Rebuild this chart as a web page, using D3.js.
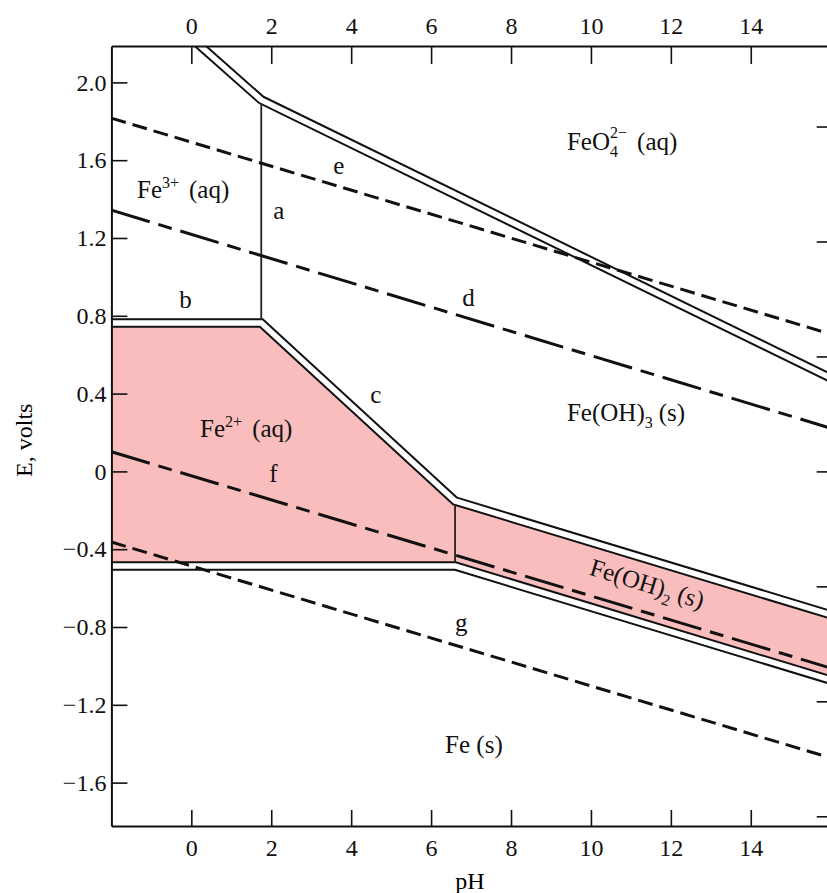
<!DOCTYPE html>
<html>
<head>
<meta charset="utf-8">
<script src="https://cdn.jsdelivr.net/npm/d3@7"></script>
<style>
  body { margin: 0; background: #fff; }
  svg { display: block; font-family: "Liberation Serif", "DejaVu Serif", serif; }
</style>
</head>
<body>
<div class="chart"></div>
<script>
// axis ticks
var phTicks = [0, 2, 4, 6, 8, 10, 12, 14];
var eTicks = [2.0, 1.6, 1.2, 0.8, 0.4, 0, -0.4, -0.8, -1.2, -1.6];
var peTicks = [-30, -20, -10, 0, 10, 20, 30];   // right edge, unlabeled

// phase boundaries, [pH, E volts]
var boundaryTop = [[0.1, 2.21], [1.75, 1.91], [16, 0.48]];          // FeO4 2- upper limit
var boundaryMid = [[-2, 0.763], [1.75, 0.763], [6.6, -0.152], [16, -0.737]];
var boundaryLow = [[-2, -0.486], [6.6, -0.486], [16, -1.073]];
var lineA = [[1.75, 1.91], [1.75, 0.763]];
var lineFe2OH2 = [[6.6, -0.152], [6.6, -0.486]];

// water lines
var lineE = [[-2, 1.816], [16, 0.706]];
var lineD = [[-2, 1.343], [16, 0.222]];
var lineF = [[-2, 0.101], [16, -1.011]];
var lineG = [[-2, -0.363], [16, -1.473]];

// shaded areas
var regionFe2 = [[-2, 0.763], [1.75, 0.763], [6.6, -0.152], [6.6, -0.486], [-2, -0.486]];
var regionFeOH2 = [[6.6, -0.152], [16, -0.737], [16, -1.073], [6.6, -0.486]];

var labels = [
  {pH: -1.36, E: 1.406, rot: 0, parts: [["Fe"], ["3+", "sup"], ["(aq)", "base", 10]]},
  {pH: 2.05, E: 1.30, rot: 0, parts: [["a"]]},
  {pH: 3.55, E: 1.53, rot: 0, parts: [["e"]]},
  {pH: -0.3, E: 0.84, rot: 0, parts: [["b"]]},
  {pH: 6.78, E: 0.85, rot: 0, parts: [["d"]]},
  {pH: 9.4, E: 1.652, rot: 0, parts: [["FeO"], ["4", "sub"], ["2−", "supover"], ["(aq)", "base", 10]]},
  {pH: 4.48, E: 0.35, rot: 0, parts: [["c"]]},
  {pH: 0.22, E: 0.177, rot: 0, parts: [["Fe"], ["2+", "sup"], ["(aq)", "base", 10]]},
  {pH: 9.4, E: 0.26, rot: 0, parts: [["Fe(OH)"], ["3", "sub"], ["(s)", "base", 6]]},
  {pH: 1.95, E: -0.054, rot: 0, parts: [["f"]]},
  {pH: 9.93, E: -0.53, rot: 17, parts: [["Fe(OH)"], ["2", "sub"], ["(s)", "base", 6]]},
  {pH: 6.6, E: -0.82, rot: 0, parts: [["g"]]},
  {pH: 6.35, E: -1.449, rot: 0, parts: [["Fe (s)"]]}
];

var width = 827, height = 893;

var svg = d3.select(".chart")
  .append("svg")
  .attr("width", width)
  .attr("height", height);

var x = d3.scaleLinear().domain([-2, 16]).range([111.4, 830.7]);
var y = d3.scaleLinear().domain([-1.823, 2.187]).range([826, 46]);
var peScale = d3.scaleLinear()
  .domain(y.domain().map(function(e) { return e / 0.0591; }))
  .range(y.range());

svg.append("clipPath").attr("id", "plotClip")
  .append("rect")
  .attr("x", x(-2)).attr("y", y(2.187))
  .attr("width", x(16) - x(-2)).attr("height", y(-1.823) - y(2.187));

var plot = svg.append("g").attr("clip-path", "url(#plotClip)");

var line = d3.line().x(function(d) { return x(d[0]); }).y(function(d) { return y(d[1]); });

// shaded regions
[regionFe2, regionFeOH2].forEach(function(r) {
  plot.append("path")
    .attr("d", line(r) + "Z")
    .attr("fill", "#f9bdbd");
});

var chains = [boundaryTop, boundaryMid, boundaryLow];

chains.forEach(function(c) {
  plot.append("path").attr("d", line(c))
    .attr("fill", "none").attr("stroke", "#111").attr("stroke-width", 9.5)
    .attr("stroke-linejoin", "miter");
});

[lineA, lineFe2OH2].forEach(function(c) {
  plot.append("path").attr("d", line(c))
    .attr("fill", "none").attr("stroke", "#222").attr("stroke-width", 1.8);
});

chains.forEach(function(c, i) {
  plot.append("path").attr("d", line(c))
    .attr("fill", "none").attr("stroke", "#fff").attr("stroke-width", 5.5)
    .attr("stroke-linejoin", "miter");
});

// dashed water lines
var dashes = [
  {pts: lineE, dash: "15,7"},
  {pts: lineD, dash: "40,9,14,9"},
  {pts: lineF, dash: "40,9,14,9"},
  {pts: lineG, dash: "15,7"}
];
dashes.forEach(function(l) {
  plot.append("path").attr("d", line(l.pts))
    .attr("fill", "none").attr("stroke", "#111").attr("stroke-width", 3)
    .attr("stroke-dasharray", l.dash);
});

// axes
var fmtE = function(d) { return d === 0 ? "0" : d3.format(".1f")(d); };

var axes = [
  svg.append("g").attr("transform", "translate(" + x(-2) + ",0)")
    .call(d3.axisLeft(y).tickValues(eTicks).tickFormat(fmtE).tickSize(-16).tickSizeOuter(0).tickPadding(5)),
  svg.append("g").attr("transform", "translate(0," + y(-1.823) + ")")
    .call(d3.axisBottom(x).tickValues(phTicks).tickSize(-16).tickSizeOuter(0).tickPadding(13)),
  svg.append("g").attr("transform", "translate(0," + y(2.187) + ")")
    .call(d3.axisTop(x).tickValues(phTicks).tickSize(-18).tickSizeOuter(0).tickPadding(12)),
  svg.append("g").attr("transform", "translate(" + x(16) + ",0)")
    .call(d3.axisRight(peScale).tickValues(peTicks).tickFormat("").tickSize(-14).tickSizeOuter(0))
];
axes.forEach(function(a) {
  a.attr("font-family", null).attr("font-size", null);
  a.select(".domain").attr("stroke", "#111").attr("stroke-width", 2);
  a.selectAll(".tick line").attr("stroke", "#111").attr("stroke-width", 1.6);
  a.selectAll(".tick text").attr("fill", "#111").style("font-size", "24px");
});

svg.append("text")
  .attr("x", 470).attr("y", 889)
  .attr("text-anchor", "middle")
  .style("font-size", "24px")
  .text("pH");

svg.append("text")
  .attr("transform", "translate(32," + y(0.16) + ") rotate(-90)")
  .attr("text-anchor", "middle")
  .style("font-size", "24px")
  .text("E, volts");

// region and line labels
labels.forEach(function(l) {
  var t = svg.append("text")
    .attr("transform", "translate(" + x(l.pH) + "," + y(l.E) + ") rotate(" + l.rot + ")")
    .style("font-size", "25px")
    .attr("fill", "#111");
  var shift = 0;   // current baseline offset
  l.parts.forEach(function(p) {
    var s = t.append("tspan").text(p[0]);
    var target = 0;
    if (p[1] === "sup") target = -10;
    if (p[1] === "sub") target = 7;
    if (p[1] === "supover") { target = -12; s.attr("dx", -8); }
    if (p[1] === "sup" || p[1] === "sub" || p[1] === "supover") s.style("font-size", "16px");
    if (target !== shift) s.attr("dy", target - shift);
    shift = target;
    if (p[2]) s.attr("dx", p[2]);
  });
});
</script>
</body>
</html>
